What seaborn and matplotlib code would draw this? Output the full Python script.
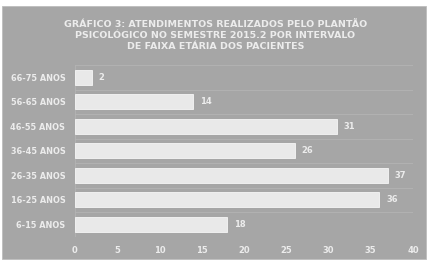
import numpy as np
import pandas as pd
import matplotlib
matplotlib.use("Agg")
import matplotlib.pyplot as plt
import seaborn as sns
from matplotlib.patches import Rectangle

# data
faixas = ["66-75 ANOS", "56-65 ANOS", "46-55 ANOS", "36-45 ANOS",
          "26-35 ANOS", "16-25 ANOS", "6-15 ANOS"]
atendimentos = [2, 14, 31, 26, 37, 36, 18]
x_ticks = [0, 5, 10, 15, 20, 25, 30, 35, 40]

titulo = ("GRÁFICO 3: ATENDIMENTOS REALIZADOS PELO PLANTÃO\n"
          "PSICOLÓGICO NO SEMESTRE 2015.2 POR INTERVALO\n"
          "DE FAIXA ETÁRIA DOS PACIENTES")

bg = "#a6a6a6"
txt = "#ececec"
barc = "#e9e9e9"

sns.set_style("white")
plt.rcParams['font.family'] = ['DejaVu Sans']

df = pd.DataFrame({"faixa": faixas, "n": atendimentos})

fig = plt.figure(figsize=(4.33, 2.62), dpi=100)
fig.patch.set_facecolor("white")
fig.patches.append(Rectangle((2 / 433, 1 - 259 / 262), 424 / 433, 253 / 262,
                             transform=fig.transFigure, facecolor=bg,
                             edgecolor="#bdbdbd", lw=0.6, zorder=-5))

ax = fig.add_axes([75 / 433, 1 - 236.5 / 262, 338 / 433, 171.5 / 262])
ax.set_facecolor("none")

sns.barplot(data=df, x="n", y="faixa", order=faixas, color=barc,
            width=0.6, edgecolor="#f6f6f6", linewidth=0.6, saturation=1,
            ax=ax, zorder=3)

ax.set_xlim(0, 40)
ax.set_ylim(len(faixas) - 0.5, -0.5)
ax.set_xticks(x_ticks)
ax.set_xticklabels([str(t) for t in x_ticks], color=txt, fontsize=6, fontweight="bold")
ax.set_yticks(range(len(faixas)))
ax.set_yticklabels(faixas, color=txt, fontsize=5.9, fontweight="bold")
ax.tick_params(axis="both", length=0, pad=7)
ax.set_xlabel("")
ax.set_ylabel("")

# category boundary lines
for b in np.arange(-0.5, len(faixas), 1):
    ax.axhline(b, color="#b4b4b4", lw=0.6, zorder=1)
ax.axvline(0, color="#b4b4b4", lw=0.6, zorder=1)
for s in ax.spines.values():
    s.set_visible(False)

for i, v in enumerate(atendimentos):
    ax.annotate(str(v), (v, i), xytext=(5, 0), textcoords="offset points",
                va="center", ha="left", color=txt, fontsize=6, fontweight="bold")

fig.text(0.497, 1 - 35.5 / 262, titulo, ha="center", va="center", color=txt,
         fontsize=6.8, fontweight="bold", linespacing=1.3)

fig.savefig("out.png", dpi=100)
